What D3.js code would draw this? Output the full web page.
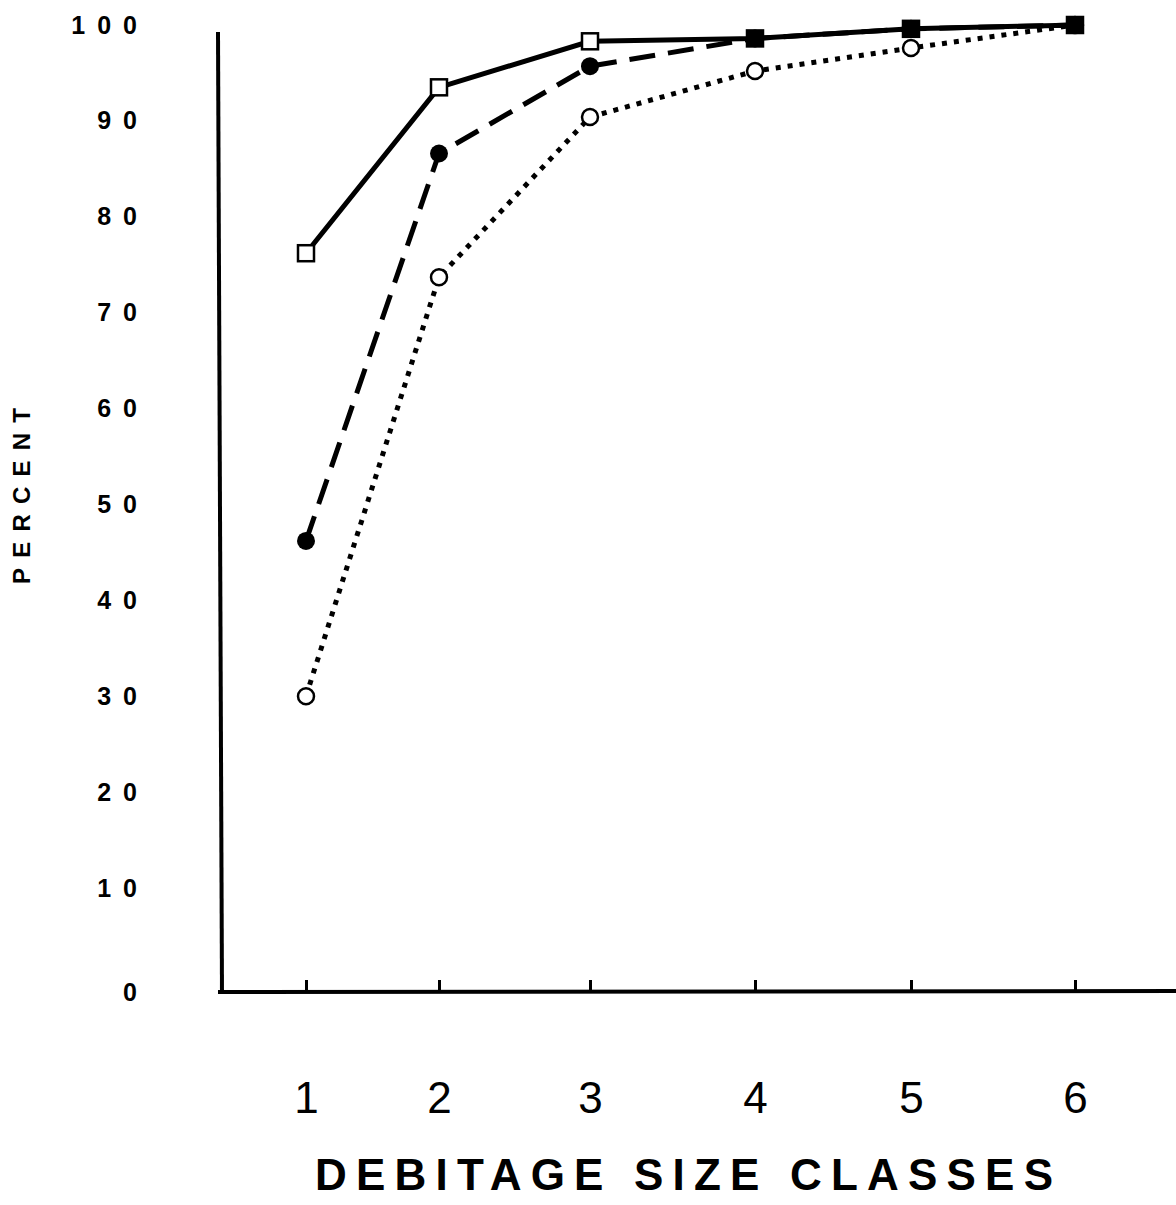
<!DOCTYPE html>
<html>
<head>
<meta charset="utf-8">
<script src="https://cdn.jsdelivr.net/npm/d3@7"></script>
<style>
  body { margin: 0; background: #fff; }
  svg { display: block; }
  text { font-family: "Liberation Sans", Arial, sans-serif; fill: #000; }
</style>
</head>
<body>
<svg></svg>
<script>
// data
var sizeClasses = [1, 2, 3, 4, 5, 6];
var percentTicks = [0, 10, 20, 30, 40, 50, 60, 70, 80, 90, 100];
var squareSeries = [76.2, 93.5, 98.3, 98.6, 99.6, 100];   // solid line, open squares
var filledSeries = [46.2, 86.6, 95.7, 98.6, 99.6, 100];   // dashed line, filled circles
var openSeries   = [30.0, 73.7, 90.4, 95.2, 97.6, 100];   // dotted line, open circles

var width = 1176, height = 1205;

var svg = d3.select('svg')
    .attr('width', width)
    .attr('height', height);

// scales (the drawn figure is a bit uneven, so piecewise)
var x = d3.scaleLinear()
    .domain(sizeClasses)
    .range([306, 439, 590, 755, 911, 1075]);

var y = d3.scaleLinear()
    .domain([0, 10, 100])
    .range([992, 888, 25]);

var axisX0 = 220;

// y axis labels
var yAxis = d3.axisLeft(y)
    .tickValues(percentTicks)
    .tickSize(0)
    .tickPadding(71);

svg.append('g')
    .attr('transform', 'translate(' + axisX0 + ',0)')
    .call(yAxis)
    .call(g => g.select('.domain').remove())
    .selectAll('text')
    .style('font-family', '"Liberation Sans", Arial, sans-serif')
    .style('font-size', '25px')
    .style('font-weight', 'bold')
    .style('letter-spacing', '12px')
    .attr('fill', '#000');

// x axis ticks + labels
var xAxis = d3.axisBottom(x)
    .tickValues(sizeClasses)
    .tickSizeInner(-12)
    .tickSizeOuter(0)
    .tickPadding(90)
    .tickFormat(d3.format('d'));

svg.append('g')
    .attr('transform', 'translate(0,' + y(0) + ')')
    .call(xAxis)
    .call(g => g.select('.domain').remove())
    .call(g => g.selectAll('.tick line').attr('stroke', '#000').attr('stroke-width', 3))
    .selectAll('text')
    .style('font-family', '"Liberation Sans", Arial, sans-serif')
    .style('font-size', '44px')
    .attr('fill', '#000');

// axis lines
svg.append('line')
    .attr('x1', 218).attr('y1', 32)
    .attr('x2', 222).attr('y2', y(0) + 2)
    .attr('stroke', '#000').attr('stroke-width', 4);

svg.append('line')
    .attr('x1', 218).attr('y1', y(0))
    .attr('x2', width).attr('y2', y(0) - 1)
    .attr('stroke', '#000').attr('stroke-width', 4);

// axis titles
svg.append('text')
    .attr('x', 684)
    .attr('y', 1190)
    .attr('text-anchor', 'middle')
    .attr('textLength', 738)
    .attr('lengthAdjust', 'spacing')
    .style('font-size', '44px')
    .style('font-weight', 'bold')
    .text('DEBITAGE SIZE CLASSES');

svg.append('text')
    .attr('transform', 'translate(30,496) rotate(-90)')
    .attr('text-anchor', 'middle')
    .attr('textLength', 176)
    .attr('lengthAdjust', 'spacing')
    .style('font-size', '24px')
    .style('font-weight', 'bold')
    .text('PERCENT');

// lines
var line = d3.line()
    .x((d, i) => x(sizeClasses[i]))
    .y(d => y(d));

svg.append('path')
    .datum(openSeries)
    .attr('d', line)
    .attr('fill', 'none')
    .attr('stroke', '#000')
    .attr('stroke-width', 5)
    .attr('stroke-dasharray', '5,7');

svg.append('path')
    .datum(filledSeries)
    .attr('d', line)
    .attr('fill', 'none')
    .attr('stroke', '#000')
    .attr('stroke-width', 5)
    .attr('stroke-dasharray', '26,13');

svg.append('path')
    .datum(squareSeries)
    .attr('d', line)
    .attr('fill', 'none')
    .attr('stroke', '#000')
    .attr('stroke-width', 5);

// markers
svg.append('g')
    .selectAll('circle')
    .data(openSeries)
    .enter()
    .append('circle')
    .attr('cx', (d, i) => x(sizeClasses[i]))
    .attr('cy', d => y(d))
    .attr('r', 8)
    .attr('fill', '#fff')
    .attr('stroke', '#000')
    .attr('stroke-width', 2.5);

svg.append('g')
    .selectAll('circle')
    .data(filledSeries)
    .enter()
    .append('circle')
    .attr('cx', (d, i) => x(sizeClasses[i]))
    .attr('cy', d => y(d))
    .attr('r', 9)
    .attr('fill', '#000');

// squares turn black where the filled-circle series lands on them
svg.append('g')
    .selectAll('rect')
    .data(squareSeries)
    .enter()
    .append('rect')
    .attr('x', (d, i) => x(sizeClasses[i]) - 8)
    .attr('y', d => y(d) - 8)
    .attr('width', 16)
    .attr('height', 16)
    .attr('fill', (d, i) => filledSeries[i] === d ? '#000' : '#fff')
    .attr('stroke', '#000')
    .attr('stroke-width', 2.5);
</script>
</body>
</html>
